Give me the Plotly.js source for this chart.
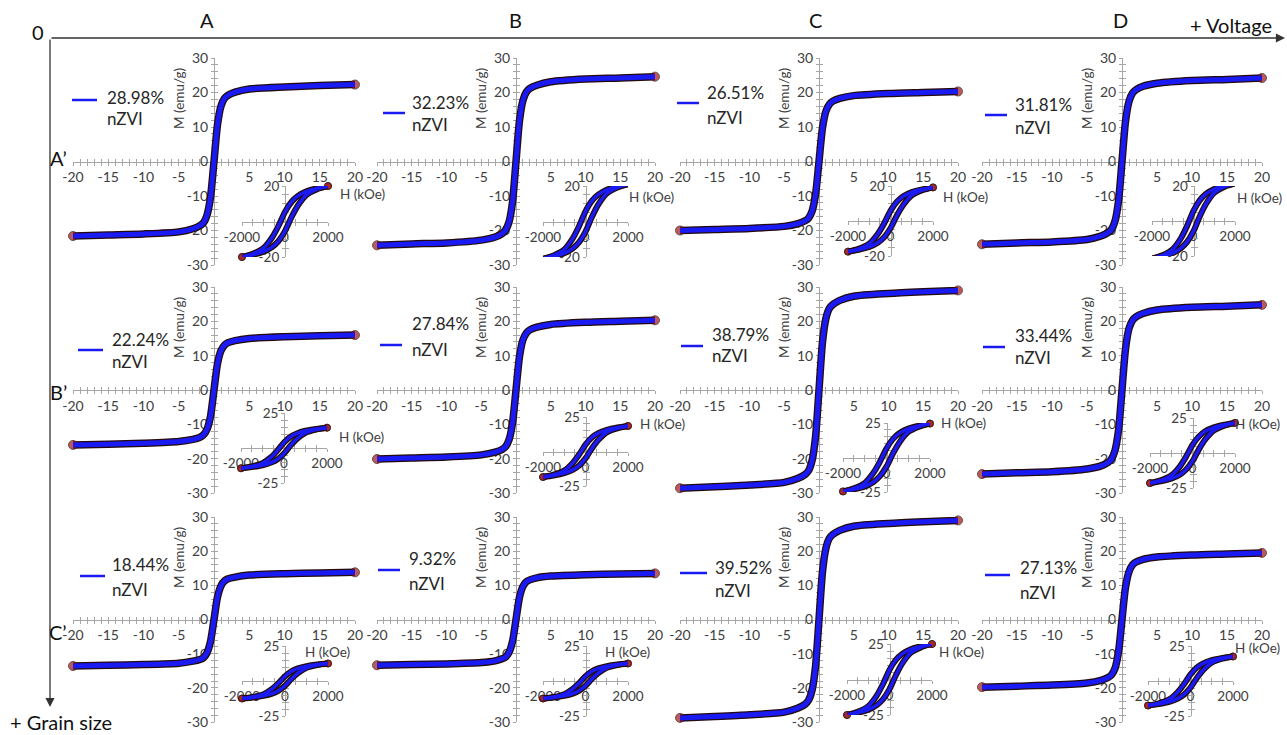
<!DOCTYPE html>
<html>
<head>
<meta charset="utf-8">
<script src="https://cdn.plot.ly/plotly-3.0.1.min.js"></script>
<style>
  html, body { margin: 0; padding: 0; background: #ffffff; }
  #chart { width: 1287px; height: 735px; }
</style>
</head>
<body>
<div id="chart"></div>
<script>
// ---------- data ----------
// Applied field of the main M–H curves (kOe)
const fieldKOe = [-20, -15, -10, -5, -3, -2, -1.5, -1, -0.5, 0, 0.5, 1, 1.5, 2, 3, 5, 10, 15, 20];

// Magnetization (emu/g) of each sample; row A'..C', column A..D
const mA1 = [-21.6, -21.3, -21.0, -20.4, -19.5, -18.6, -17.8, -15.6, -10.4, 0, 10.7, 16.1, 18.3, 19.2, 20.1, 21.0, 21.6, 22.0, 22.3];
const mB1 = [-24.3, -23.9, -23.6, -22.8, -21.9, -20.9, -19.9, -17.5, -11.7, 0, 11.8, 17.7, 20.2, 21.2, 22.1, 23.1, 23.9, 24.2, 24.6];
const mC1 = [-20.0, -19.7, -19.4, -18.8, -18.0, -17.2, -16.4, -14.4, -9.6, 0, 9.7, 14.6, 16.6, 17.5, 18.3, 19.1, 19.7, 20.0, 20.3];
const mD1 = [-24.0, -23.6, -23.3, -22.6, -21.6, -20.6, -19.7, -17.3, -11.5, 0, 11.6, 17.4, 19.8, 20.8, 21.8, 22.7, 23.5, 23.8, 24.2];
const mA2 = [-16.0, -15.8, -15.5, -15.0, -14.4, -13.8, -13.1, -11.5, -7.7, 0, 7.7, 11.5, 13.1, 13.8, 14.4, 15.0, 15.5, 15.8, 16.0];
const mB2 = [-20.1, -19.8, -19.5, -18.9, -18.1, -17.3, -16.5, -14.5, -9.6, 0, 9.7, 14.6, 16.6, 17.5, 18.3, 19.1, 19.7, 20.0, 20.3];
const mC2 = [-28.6, -28.2, -27.7, -26.9, -25.7, -24.6, -23.5, -20.6, -13.7, 0, 13.9, 20.9, 23.8, 24.9, 26.1, 27.3, 28.1, 28.6, 29.0];
const mD2 = [-24.5, -24.1, -23.8, -23.0, -22.1, -21.1, -20.1, -17.6, -11.8, 0, 11.9, 17.9, 20.3, 21.3, 22.3, 23.3, 24.1, 24.4, 24.8];
const mA3 = [-13.6, -13.4, -13.2, -12.8, -12.2, -11.7, -11.2, -9.8, -6.5, 0, 6.6, 9.9, 11.3, 11.9, 12.4, 13.0, 13.4, 13.6, 13.8];
const mB3 = [-13.4, -13.2, -13.0, -12.6, -12.1, -11.5, -11.0, -9.6, -6.4, 0, 6.5, 9.7, 11.1, 11.6, 12.2, 12.7, 13.1, 13.3, 13.5];
const mC3 = [-28.8, -28.4, -27.9, -27.1, -25.9, -24.8, -23.6, -20.7, -13.8, 0, 13.9, 20.9, 23.8, 24.9, 26.1, 27.3, 28.1, 28.6, 29.0];
const mD3 = [-19.8, -19.5, -19.2, -18.6, -17.8, -17.0, -16.2, -14.3, -9.5, 0, 9.4, 14.0, 16.0, 16.8, 17.6, 18.3, 18.9, 19.2, 19.5];

// Low-field loops of the insets (Oe): ascending and descending branches
const fieldOe = [-2000, -1500, -1000, -600, -300, 0, 300, 600, 1000, 1500, 2000];
const upA1   = [-20, -18.8, -17, -14.4, -11, -5.4, 2.4, 9, 15, 18.2, 20];
const downA1 = [-20, -18.2, -15, -9, -2.4, 5.4, 11, 14.4, 17, 18.8, 20];
const upB1   = [-21, -19.7, -17.9, -15.1, -11.6, -5.7, 2.5, 9.5, 15.8, 19.1, 21];
const downB1 = [-21, -19.1, -15.8, -9.5, -2.5, 5.7, 11.6, 15.1, 17.9, 19.7, 21];
const upC1   = [-17.5, -16.4, -14.8, -12.4, -9.3, -4.1, 3.1, 9.1, 14.6, 17.6, 19.2];
const downC1 = [-17.5, -15.9, -12.9, -7.4, -1.4, 5.8, 11.0, 14.1, 16.5, 18.1, 19.2];
const upD1   = [-21.5, -20.2, -18.3, -15.5, -11.8, -5.8, 2.6, 9.7, 16.1, 19.6, 21.5];
const downD1 = [-21.5, -19.6, -16.1, -9.7, -2.6, 5.8, 11.8, 15.5, 18.3, 20.2, 21.5];
const upA2   = [-14.5, -13.6, -12.3, -10.4, -8, -3.9, 1.7, 6.5, 10.9, 13.2, 14.5];
const downA2 = [-14.5, -13.2, -10.9, -6.5, -1.7, 3.9, 8, 10.4, 12.3, 13.6, 14.5];
const upB2   = [-18.5, -17.4, -15.7, -13.3, -10.2, -5, 2.2, 8.3, 13.9, 16.8, 18.5];
const downB2 = [-18.5, -16.8, -13.9, -8.3, -2.2, 5, 10.2, 13.3, 15.7, 17.4, 18.5];
const upC2   = [-24.6, -23.1, -20.9, -17.7, -13.5, -6.6, 3, 11.1, 18.5, 22.4, 24.6];
const downC2 = [-24.6, -22.4, -18.5, -11.1, -3, 6.6, 13.5, 17.7, 20.9, 23.1, 24.6];
const upD2   = [-21.5, -20.2, -18.3, -15.5, -11.8, -5.8, 2.6, 9.7, 16.1, 19.6, 21.5];
const downD2 = [-21.5, -19.6, -16.1, -9.7, -2.6, 5.8, 11.8, 15.5, 18.3, 20.2, 21.5];
const upA3   = [-12.5, -11.8, -10.6, -9, -6.9, -3.4, 1.5, 5.6, 9.4, 11.4, 12.5];
const downA3 = [-12.5, -11.4, -9.4, -5.6, -1.5, 3.4, 6.9, 9, 10.6, 11.8, 12.5];
const upB3   = [-12.5, -11.8, -10.6, -9, -6.9, -3.4, 1.5, 5.6, 9.4, 11.4, 12.5];
const downB3 = [-12.5, -11.4, -9.4, -5.6, -1.5, 3.4, 6.9, 9, 10.6, 11.8, 12.5];
const upC3   = [-25, -23.5, -21.3, -18, -13.8, -6.8, 3, 11.3, 18.8, 22.8, 25];
const downC3 = [-25, -22.8, -18.8, -11.3, -3, 6.8, 13.8, 18, 21.3, 23.5, 25];
const upD3   = [-17.5, -16.5, -14.9, -12.6, -9.6, -4.7, 2.1, 7.9, 13.1, 15.9, 17.5];
const downD3 = [-17.5, -15.9, -13.1, -7.9, -2.1, 4.7, 9.6, 12.6, 14.9, 16.5, 17.5];

// nZVI content of each sample
const nzviContent = ['28.98%', '32.23%', '26.51%', '31.81%',
                     '22.24%', '27.84%', '38.79%', '33.44%',
                     '18.44%', '9.32%', '39.52%', '27.13%'];

const columnLabels = ['A', 'B', 'C', 'D'];
const rowLabels = ['A\u2019', 'B\u2019', 'C\u2019'];

const mainCurves = [mA1, mB1, mC1, mD1, mA2, mB2, mC2, mD2, mA3, mB3, mC3, mD3];
const loopsUp    = [upA1, upB1, upC1, upD1, upA2, upB2, upC2, upD2, upA3, upB3, upC3, upD3];
const loopsDown  = [downA1, downB1, downC1, downD1, downA2, downB2, downC2, downD2, downA3, downB3, downC3, downD3];

// ---------- geometry (pixels of the 1287 x 735 page) ----------
const W = 1287, H = 735;
const fx = px => px / W;
const fy = py => 1 - py / H;

const colPx = [[73, 355], [377, 655], [680, 958], [982, 1262]];   // H = -20 .. 20
const rowPx = [[58, 265], [287, 493], [517, 722]];                // M = 30 .. -30

// inset boxes: [left, right, top, bottom, half-range of M]
const insetBox = [
  [242, 328, 186, 257, 20], [543, 628, 186, 257, 20], [848, 933, 186, 256, 20], [1152, 1235, 186, 256, 20],
  [241, 327, 413, 483, 25], [543, 628, 417, 486, 25], [843, 930, 423, 492, 25], [1150, 1235, 418, 488, 25],
  [242, 328, 646, 716, 25], [543, 628, 646, 716, 25], [847, 932, 644, 715, 25], [1148, 1233, 646, 716, 25]
];

// "H (kOe)" label anchors (left edge, centre line)
const hLabelPx = [
  [338, 194], [627, 197], [941, 197], [1235, 198],
  [337, 437], [638, 424], [939, 423], [1233, 424],
  [303, 652], [603, 652], [937, 652], [1233, 648]
];

// legend: [line x0, line x1, line y, text left, first line y, second line y]
const legendPx = [
  [72, 97, 100, 105, 97, 119], [383, 405, 113, 410, 102, 125], [677, 699, 103, 705, 93, 117], [985, 1007, 115, 1013, 105, 127],
  [78, 103, 350, 110, 339, 361], [380, 402, 345, 410, 324, 349], [681, 703, 346, 710, 334, 355], [983, 1005, 347, 1013, 335, 357],
  [80, 105, 576, 110, 564, 589], [378, 400, 570, 407, 558, 583], [680, 707, 573, 713, 567, 590], [985, 1010, 575, 1018, 567, 592]
];

const FONT = 'Lato, "Open Sans", sans-serif';
const AXIS_GREY = '#a6a6a6';
const TICK_TEXT = '#404040';
const BLUE = '#1a1af2';
const EDGE = '#240a0a';
const DOT = '#a01414';

const endSizes = (n, s) => Array.from({length: n}, (_, k) => (k === 0 || k === n - 1) ? s : 0);
const sfx = n => (n === 1 ? '' : String(n));

const traces = [];
const layout = {
  width: W, height: H,
  margin: {l: 0, r: 0, t: 0, b: 0},
  paper_bgcolor: '#ffffff', plot_bgcolor: 'rgba(0,0,0,0)',
  showlegend: false,
  font: {family: FONT, color: TICK_TEXT},
  annotations: [], shapes: []
};

function axisBase() {
  return {
    showline: true, linecolor: AXIS_GREY, linewidth: 1,
    showgrid: false, zeroline: false, ticks: 'outside', ticklen: 3, tickcolor: AXIS_GREY, tickwidth: 1,
    tickmode: 'array', layer: 'below traces', fixedrange: true, anchor: 'free',
    tickfont: {family: FONT, size: 14, color: TICK_TEXT}
  };
}

// A second, label-free axis on the same line carries the inner half of each
// tick so the marks cross the axis line.
function innerTicks(base, overlay) {
  return {
    overlaying: overlay, anchor: 'free', position: base.position, range: base.range,
    showline: false, showgrid: false, zeroline: false, showticklabels: false,
    tickmode: 'array', tickvals: base.tickvals, ticks: 'inside', ticklen: 3, tickcolor: AXIS_GREY, tickwidth: 1,
    minor: Object.assign({}, base.minor, {ticks: 'inside'}),
    layer: 'below traces', fixedrange: true, side: base.side
  };
}

for (let i = 0; i < 12; i++) {
  const r = Math.floor(i / 4), c = i % 4;
  const [xl, xr] = colPx[c];
  const [yt, yb] = rowPx[r];
  const xMid = (xl + xr) / 2, yMid = (yt + yb) / 2;

  // main subplot axes
  const mi = i + 1;
  const mainX = Object.assign(axisBase(), {
    domain: [fx(xl), fx(xr)], range: [-20, 20], position: fy(yMid),
    tickvals: [-20, -15, -10, -5, 0, 5, 10, 15, 20],
    ticktext: ['-20', '-15', '-10', '-5', '', '5', '10', '15', '20'],
    minor: {tickmode: 'linear', tick0: 0, dtick: 1, ticks: 'outside', ticklen: 3, tickcolor: AXIS_GREY}
  });
  const mainY = Object.assign(axisBase(), {
    domain: [fy(yb), fy(yt)], range: [-30, 30], position: fx(xMid),
    tickvals: [-30, -20, -10, 0, 10, 20, 30],
    ticktext: ['-30', '-20', '-10', '0', '10', '20', '30'],
    minor: {tickmode: 'linear', tick0: 0, dtick: 2, ticks: 'outside', ticklen: 3, tickcolor: AXIS_GREY}
  });
  layout['xaxis' + sfx(mi)] = mainX;
  layout['yaxis' + sfx(mi)] = mainY;
  const xs = 'x' + sfx(mi), ys = 'y' + sfx(mi);

  // inset subplot axes
  const [il, ir, it, ib, R] = insetBox[i];
  const ii = i + 13;
  const insetX = Object.assign(axisBase(), {
    domain: [fx(il), fx(ir)], range: [-2000, 2000], position: fy((it + ib) / 2),
    tickvals: [-2000, 0, 2000], ticktext: ['-2000', '0', '2000'],
    tickfont: {family: FONT, size: 13.5, color: TICK_TEXT},
    minor: {tickmode: 'linear', tick0: 0, dtick: 500, ticks: 'outside', ticklen: 3, tickcolor: AXIS_GREY}
  });
  const insetY = Object.assign(axisBase(), {
    domain: [fy(ib), fy(it)], range: [-R, R], position: fx((il + ir) / 2),
    tickvals: [-R, R], ticktext: [String(-R), String(R)],
    tickfont: {family: FONT, size: 13.5, color: TICK_TEXT},
    minor: {tickmode: 'linear', tick0: 0, dtick: 5, ticks: 'outside', ticklen: 3, tickcolor: AXIS_GREY}
  });
  layout['xaxis' + ii] = insetX;
  layout['yaxis' + ii] = insetY;

  // inner tick halves (axes 25..36 for the main plots, 37..48 for the insets)
  const di = i + 25, dj = i + 37;
  layout['xaxis' + di] = innerTicks(mainX, xs);
  layout['yaxis' + di] = innerTicks(mainY, ys);
  layout['xaxis' + dj] = innerTicks(insetX, 'x' + ii);
  layout['yaxis' + dj] = innerTicks(insetY, 'y' + ii);
  traces.push({x: [], y: [], xaxis: 'x' + di, yaxis: 'y' + di, mode: 'markers', hoverinfo: 'skip'});
  traces.push({x: [], y: [], xaxis: 'x' + dj, yaxis: 'y' + dj, mode: 'markers', hoverinfo: 'skip'});

  // main curve: dark outline, red end points, blue body
  const m = mainCurves[i];
  traces.push({
    x: fieldKOe, y: m, xaxis: xs, yaxis: ys, mode: 'lines+markers', cliponaxis: false, hoverinfo: 'skip',
    line: {color: EDGE, width: 7.5, shape: 'spline', smoothing: 0.7},
    marker: {size: endSizes(m.length, 9), color: DOT, line: {color: EDGE, width: 1}}
  });
  traces.push({
    x: fieldKOe, y: m, xaxis: xs, yaxis: ys, mode: 'lines', cliponaxis: false, hoverinfo: 'skip',
    line: {color: BLUE, width: 5, shape: 'spline', smoothing: 0.7}
  });

  // inset loop
  [loopsUp[i], loopsDown[i]].forEach(branch => {
    traces.push({
      x: fieldOe, y: branch, xaxis: 'x' + ii, yaxis: 'y' + ii, mode: 'lines+markers', cliponaxis: false, hoverinfo: 'skip',
      line: {color: EDGE, width: 6, shape: 'spline', smoothing: 0.8},
      marker: {size: endSizes(branch.length, 7), color: DOT, line: {color: EDGE, width: 1}}
    });
  });
  [loopsUp[i], loopsDown[i]].forEach(branch => {
    traces.push({
      x: fieldOe, y: branch, xaxis: 'x' + ii, yaxis: 'y' + ii, mode: 'lines', cliponaxis: false, hoverinfo: 'skip',
      line: {color: BLUE, width: 3.5, shape: 'spline', smoothing: 0.8}
    });
  });

  // axis titles
  layout.annotations.push({
    xref: 'paper', yref: 'paper', x: fx(xMid - 35), y: fy(yt + 41), text: 'M (emu/g)', textangle: -90,
    showarrow: false, font: {family: FONT, size: 13.5, color: TICK_TEXT}, xanchor: 'center', yanchor: 'middle'
  });
  const [hx, hy] = hLabelPx[i];
  layout.annotations.push({
    xref: 'paper', yref: 'paper', x: fx(hx), y: fy(hy), text: 'H (kOe)', showarrow: false,
    font: {family: FONT, size: 13.5, color: TICK_TEXT}, xanchor: 'left', yanchor: 'middle'
  });

  // legend entry
  const [l0, l1, ly, tx, t1, t2] = legendPx[i];
  layout.shapes.push({
    type: 'line', xref: 'paper', yref: 'paper', x0: fx(l0), x1: fx(l1), y0: fy(ly), y1: fy(ly),
    line: {color: BLUE, width: 2.5}
  });
  layout.annotations.push({
    xref: 'paper', yref: 'paper', x: fx(tx), y: fy(t1), text: nzviContent[i], showarrow: false,
    font: {family: FONT, size: 17, color: '#262626'}, xanchor: 'left', yanchor: 'middle'
  });
  layout.annotations.push({
    xref: 'paper', yref: 'paper', x: fx(tx), y: fy(t2), text: 'nZVI', showarrow: false,
    font: {family: FONT, size: 17, color: '#262626'}, xanchor: 'left', yanchor: 'middle'
  });
}

// ---------- frame: origin, arrows and row / column headings ----------
const headFont = {family: FONT, size: 20, color: '#111111'};
const head = (x, y, t, xa) => ({
  xref: 'paper', yref: 'paper', x: fx(x), y: fy(y), text: t, showarrow: false, font: headFont,
  xanchor: xa || 'center', yanchor: 'middle'
});
layout.annotations.push(
  {xref: 'paper', yref: 'paper', x: fx(1285), y: fy(38), ax: -1235, ay: 0, text: '', showarrow: true,
   arrowhead: 2, arrowsize: 1.4, arrowwidth: 1.3, arrowcolor: '#333333'},
  {xref: 'paper', yref: 'paper', x: fx(50), y: fy(707), ax: 0, ay: -669, text: '', showarrow: true,
   arrowhead: 2, arrowsize: 1.4, arrowwidth: 1.3, arrowcolor: '#333333'},
  head(38, 32, '0'),
  head(1231, 25, '+ Voltage'),
  head(8, 722, '+ Grain size', 'left')
);
const colHeadPx = [207, 515, 815, 1120];
columnLabels.forEach((t, k) => layout.annotations.push(head(colHeadPx[k], 20, t)));
const rowHeadPx = [158, 392, 632];
rowLabels.forEach((t, k) => layout.annotations.push(head(58, rowHeadPx[k], t)));

Plotly.newPlot('chart', traces, layout, {staticPlot: true, displayModeBar: false});
</script>
</body>
</html>
